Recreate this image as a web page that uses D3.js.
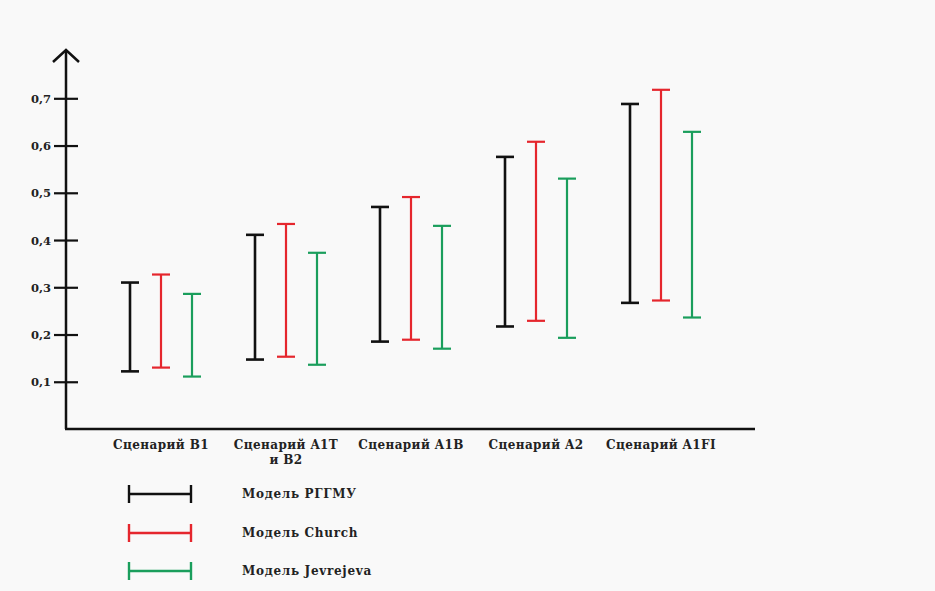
<!DOCTYPE html>
<html><head><meta charset="utf-8">
<script src="https://cdn.jsdelivr.net/npm/d3@7"></script>
<style>
html,body{margin:0;padding:0;background:#f9f9f9;}
svg{display:block;}
text{font-family:"DejaVu Serif","Liberation Serif",serif;font-weight:bold;fill:#222;}
</style></head><body>
<script>
const categories = ["Сценарий B1", "Сценарий A1T|и B2", "Сценарий A1B", "Сценарий A2", "Сценарий A1FI"];
const seriesNames = ["Модель РГГМУ", "Модель Church", "Модель Jevrejeva"];
const seriesColors = ["#111111", "#e5262d", "#1a9e5c"];
const lowRGGMU   = [0.122, 0.147, 0.185, 0.217, 0.267];
const highRGGMU  = [0.310, 0.411, 0.470, 0.576, 0.688];
const lowChurch  = [0.130, 0.153, 0.189, 0.229, 0.272];
const highChurch = [0.327, 0.434, 0.491, 0.608, 0.718];
const lowJev     = [0.111, 0.136, 0.170, 0.193, 0.236];
const highJev    = [0.286, 0.373, 0.430, 0.530, 0.629];
const yTicks = [0.1, 0.2, 0.3, 0.4, 0.5, 0.6, 0.7];

const lows = [lowRGGMU, lowChurch, lowJev];
const highs = [highRGGMU, highChurch, highJev];

const W = 935, H = 591;
const svg = d3.select("body").append("svg").attr("width", W).attr("height", H);
svg.append("rect").attr("width", W).attr("height", H).attr("fill", "#f9f9f9");

const axisX = 66, axisY = 429;
const y = d3.scaleLinear().domain([0, 0.7]).range([axisY, 98.3]);
const x = d3.scaleBand().domain(categories).range([98.5, 723.5]);
const xs = d3.scalePoint().domain(seriesNames).range([-31, 31]);

// axes
svg.append("line").attr("x1", axisX).attr("x2", axisX).attr("y1", axisY).attr("y2", 50)
  .attr("stroke", "#111").attr("stroke-width", 2.5);
svg.append("polyline").attr("points", `${axisX-13},62 ${axisX},50 ${axisX+13},62`)
  .attr("fill", "none").attr("stroke", "#111").attr("stroke-width", 2.5);
svg.append("line").attr("x1", axisX-1).attr("x2", 755).attr("y1", axisY).attr("y2", axisY)
  .attr("stroke", "#111").attr("stroke-width", 2.5);

const yAxis = d3.axisLeft(y).tickValues(yTicks).tickSize(0)
  .tickFormat(d => d3.format(".1f")(d).replace(".", ","));
const gy = svg.append("g").attr("transform", `translate(${axisX},0)`).call(yAxis);
gy.select(".domain").remove();
gy.selectAll(".tick line").remove();
gy.selectAll(".tick").append("line").attr("x1", -12).attr("x2", 12)
  .attr("stroke", "#111").attr("stroke-width", 2.2);
gy.selectAll(".tick text").attr("x", -15).attr("dy", "0.35em")
  .style("font-size", "11.5px").style("font-family", "DejaVu Serif").style("font-weight", "bold").attr("fill", "#222");

// x labels
const xl = svg.append("g");
categories.forEach(c => {
  const parts = c.split("|");
  const cx = x(c) + x.bandwidth()/2;
  const t = xl.append("text").attr("x", cx).attr("y", 449)
    .attr("text-anchor", "middle").style("font-size", "12px").style("letter-spacing", "0.4px");
  parts.forEach((p, i) => {
    t.append("tspan").attr("x", cx).attr("dy", i === 0 ? 0 : 15).text(p);
  });
});

// error bars
const cap = 9;
seriesNames.forEach((s, si) => {
  const g = svg.append("g").attr("stroke", seriesColors[si]).attr("stroke-width", si === 0 ? 2.6 : 2.2);
  categories.forEach((c, ci) => {
    const cx = x(c) + x.bandwidth()/2 + xs(s);
    const y1 = y(lows[si][ci]), y2 = y(highs[si][ci]);
    g.append("line").attr("x1", cx).attr("x2", cx).attr("y1", y1).attr("y2", y2);
    g.append("line").attr("x1", cx-cap).attr("x2", cx+cap).attr("y1", y1).attr("y2", y1);
    g.append("line").attr("x1", cx-cap).attr("x2", cx+cap).attr("y1", y2).attr("y2", y2);
  });
});

// legend
const legY = [494, 533, 571];
seriesNames.forEach((s, si) => {
  const g = svg.append("g").attr("stroke", seriesColors[si]).attr("stroke-width", 2.4);
  const ly = legY[si];
  g.append("line").attr("x1", 129).attr("x2", 191).attr("y1", ly).attr("y2", ly);
  g.append("line").attr("x1", 129).attr("x2", 129).attr("y1", ly-9).attr("y2", ly+9);
  g.append("line").attr("x1", 191).attr("x2", 191).attr("y1", ly-9).attr("y2", ly+9);
  svg.append("text").attr("x", 242).attr("y", ly+4).style("font-size", "12px")
    .style("letter-spacing", "0.7px").text(s);
});
</script>
</body></html>
